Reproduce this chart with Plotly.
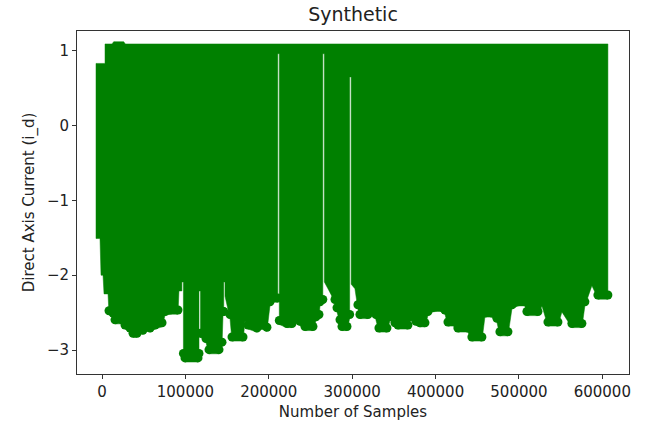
import plotly.graph_objects as go

# Upper envelope of the dense i_d scatter (samples, value)
upper_x = [-7200, 3600, 3600, 12000, 14000, 26000, 28000, 606700]
upper_y = [0.83, 0.83, 1.09, 1.09, 1.12, 1.12, 1.09, 1.09]

# Lower envelope of the dense i_d scatter, left to right (gaps in the data reach up as slits)
lower_x = [-7200, -2400, -1200, 1200, 2400, 7200, 8400, 13200, 15600, 24000, 27600, 33600,
           37200, 42000, 45600, 49000, 52800, 57600, 63600, 72000, 75500, 81500, 91100, 92300,
           95800, 95800, 97600, 97600, 99500, 115100, 116300, 116300, 118100, 118100, 119900,
           124700, 128300, 140300, 143900, 145100, 146000, 146000, 147500, 147500, 153500,
           155900, 169100, 171500, 175100, 185800, 191800, 197800, 201400, 205000, 210800,
           210800, 212600, 212600, 221800, 227800, 231400, 237400, 243400, 253000, 256600,
           260200, 261400, 264800, 264800, 266600, 266600, 271000, 275700, 279400, 281800,
           285400, 287800, 293800, 297000, 297000, 298800, 298800, 303300, 306900, 309300,
           318900, 322500, 326100, 328500, 332100, 341700, 345300, 348900, 351300, 354900,
           366900, 369300, 372900, 376500, 381300, 387300, 390900, 395700, 405300, 411300,
           414900, 423300, 426800, 438800, 443600, 455600, 459200, 467600, 473600, 477200,
           486800, 491600, 498800, 507200, 509600, 522800, 527600, 534800, 546800, 551500,
           563500, 575500, 579100, 587500, 593500, 594700, 606700]
lower_y = [-1.51, -1.51, -2.00, -2.00, -2.25, -2.25, -2.53, -2.56, -2.65, -2.65, -2.72, -2.76,
           -2.83, -2.83, -2.75, -2.79, -2.72, -2.76, -2.72, -2.69, -2.54, -2.52, -2.52, -2.21,
           -2.21, -2.09, -2.09, -3.10, -3.16, -3.16, -3.10, -2.21, -2.21, -2.83, -2.83,
           -2.90, -3.05, -3.05, -2.95, -2.54, -2.54, -2.09, -2.09, -2.28, -2.58,
           -2.88, -2.88, -2.61, -2.72, -2.76, -2.72, -2.75, -2.41, -2.36, -2.36,
           0.96, 0.96, -2.66, -2.70, -2.70, -2.63, -2.67, -2.74, -2.74, -2.61,
           -2.58, -2.41, -2.38, 0.96, 0.96, -2.09, -2.18, -2.28, -2.38, -2.49,
           -2.65, -2.74, -2.74, -2.58, 0.65, 0.65, -2.12, -2.18, -2.45, -2.58,
           -2.58, -2.52, -2.49, -2.58, -2.76, -2.76, -2.61, -2.56, -2.69, -2.72,
           -2.72, -2.61, -2.58, -2.67, -2.69, -2.69, -2.54, -2.49, -2.48, -2.52,
           -2.68, -2.68, -2.76, -2.76, -2.88, -2.88, -2.56, -2.56, -2.63, -2.81,
           -2.81, -2.45, -2.41, -2.41, -2.54, -2.54, -2.41, -2.68, -2.68, -2.49,
           -2.70, -2.70, -2.41, -2.14, -2.28, -2.32, -2.32]

x_ticks = [0, 100000, 200000, 300000, 400000, 500000, 600000]
y_ticks = [-3, -2, -1, 0, 1]

GREEN = "#008000"
poly_x = upper_x + lower_x[::-1] + [upper_x[0]]
poly_y = upper_y + lower_y[::-1] + [upper_y[0]]

# rounded sample markers sitting on the deep parts of the lower envelope
dot_pairs = [(x, y) for x, y in zip(lower_x, lower_y) if y < -2.3]
dot_x = [p[0] for p in dot_pairs]
dot_y = [p[1] + 0.055 for p in dot_pairs]

fig = go.Figure()
fig.add_trace(go.Scatter(
    x=poly_x, y=poly_y, mode="lines", fill="toself",
    fillcolor=GREEN, line=dict(color=GREEN, width=0.5),
    hoverinfo="skip", showlegend=False,
))
fig.add_trace(go.Scatter(
    x=dot_x, y=dot_y, mode="markers",
    marker=dict(color=GREEN, size=9, line=dict(width=0)),
    hoverinfo="skip", showlegend=False,
))

font_family = "DejaVu Sans"
axis_color = "#333333"
fig.update_layout(
    width=646, height=430,
    margin=dict(l=77, r=17, t=31, b=56),
    paper_bgcolor="white", plot_bgcolor="white",
    font=dict(family=font_family, size=15, color="#222222"),
    title=dict(text="Synthetic", x=(77 + 629) / 2 / 646, xanchor="center",
               y=1 - 14 / 430, yanchor="middle", yref="container",
               font=dict(size=19, color="#222222")),
    showlegend=False,
)
fig.update_xaxes(
    range=[-30000, 632000], tickvals=x_ticks, tickformat="d",
    showgrid=False, zeroline=False, showline=True, mirror=True,
    linecolor=axis_color, linewidth=1, ticks="outside", ticklen=4,
    tickcolor=axis_color,
    title=dict(text="Number of Samples", standoff=6, font=dict(size=15)),
)
fig.update_yaxes(
    range=[-3.32, 1.263], tickvals=y_ticks,
    showgrid=False, zeroline=False, showline=True, mirror=True,
    linecolor=axis_color, linewidth=1, ticks="outside", ticklen=4,
    tickcolor=axis_color,
    title=dict(text="Direct Axis Current (i_d)", standoff=8, font=dict(size=15)),
)

fig.write_html("out.html")
